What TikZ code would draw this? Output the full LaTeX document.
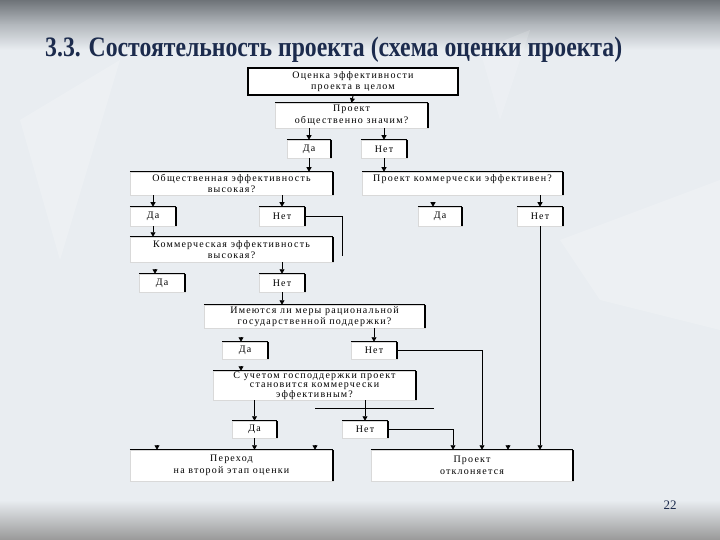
\documentclass[tikz,border=0pt]{standalone}
\usepackage{fontspec}
\setmainfont{Liberation Serif}
\newfontfamily\boxfont[LetterSpace=12]{Liberation Serif}
\usetikzlibrary{arrows.meta}
\definecolor{bgmain}{HTML}{E9EDF1}
\definecolor{topdark}{HTML}{6E7378}
\definecolor{topmid}{HTML}{B4B9BE}
\definecolor{botgray}{HTML}{999999}
\definecolor{titleblue}{HTML}{1C2B4D}
\tikzset{
  box/.style={fill=white, draw=gray!30, line width=0.5pt, inner sep=1pt, align=center,
    font=\boxfont\fontsize{10}{11.5}\selectfont},
  topedge/.style={line width=1pt},
  rightedge/.style={line width=1.7pt},
  arr/.style={-{Triangle[length=4.5pt,width=5pt]}, line width=0.9pt},
  ln/.style={line width=0.9pt},
}
\newcommand{\edges}[1]{%
  \draw[topedge] (#1.north west) -- (#1.north east);
  \draw[rightedge] (#1.north east) -- (#1.south east);}
\begin{document}
\begin{tikzpicture}[x=1pt,y=-1pt]
\useasboundingbox (0,0) rectangle (720,540);
% background
\fill[bgmain] (0,0) rectangle (720,540);
\shade[top color=topdark, bottom color=topmid] (0,0) rectangle (720,25);
\shade[top color=topmid, bottom color=bgmain] (0,25) rectangle (720,50);
\shade[top color=bgmain, bottom color=botgray] (0,500) rectangle (720,540);
% faint decoration
\fill[white, opacity=0.2] (20,120) -- (120,60) -- (60,260) -- cycle;
\fill[white, opacity=0.2] (560,240) -- (720,180) -- (720,330) -- (600,300) -- cycle;
\fill[white, opacity=0.15] (480,50) -- (530,30) -- (500,120) -- cycle;
% title
\node[anchor=base west, inner sep=0, text=titleblue] (title) at (45,57)
  {\resizebox{577pt}{19.5pt}{\bfseries 3.3. Состоятельность проекта (схема оценки проекта)}};
% page number
\node[anchor=base, inner sep=0, text=titleblue, font=\fontsize{13}{15}\selectfont] (pnum) at (670,509) {22};

% boxes
\node[box, draw=black, line width=1.5pt, minimum width=210pt, minimum height=27pt] (b1) at (353,81.5)
  {Оценка эффективности\\проекта в целом};
\node[box, minimum width=153pt, minimum height=25pt] (b2) at (351.5,115.5)
  {Проект\\общественно значим?};
\node[box, minimum width=44pt, minimum height=18pt] (da1) at (309,149) {Да};
\node[box, minimum width=46pt, minimum height=18pt] (net1) at (384,149) {Нет};
\node[box, minimum width=203pt, minimum height=23pt] (b3) at (231.5,183.5)
  {Общественная эффективность\\высокая?};
\node[box, minimum width=201pt, minimum height=23pt] (b4) at (462.5,183.5)
  {Проект коммерчески эффективен?\\\mbox{}};
\node[box, minimum width=46pt, minimum height=19pt] (da2) at (153,216.5) {Да};
\node[box, minimum width=46pt, minimum height=19pt] (net2) at (282,216.5) {Нет};
\node[box, minimum width=44pt, minimum height=19pt] (da3) at (440,216.5) {Да};
\node[box, minimum width=46pt, minimum height=19pt] (net3) at (540,216.5) {Нет};
\node[box, minimum width=203pt, minimum height=25pt] (b5) at (231.5,249.5)
  {Коммерческая эффективность\\высокая?};
\node[box, minimum width=46pt, minimum height=18pt] (da4) at (162,283) {Да};
\node[box, minimum width=46pt, minimum height=18pt] (net4) at (282,283) {Нет};
\node[box, minimum width=221pt, minimum height=23pt] (b6) at (314.5,316.5)
  {Имеются ли меры рациональной\\государственной поддержки?};
\node[box, minimum width=46pt, minimum height=17pt] (da5) at (245,350.5) {Да};
\node[box, minimum width=46pt, minimum height=17pt] (net5) at (374,350.5) {Нет};
\node[box, minimum width=203pt, minimum height=29pt, inner sep=0.5pt, font=\boxfont\fontsize{10}{9.6}\selectfont] (b7) at (314.5,385.5)
  {С учетом господдержки проект\\становится коммерчески\\эффективным?};
\node[box, minimum width=45pt, minimum height=17pt] (da6) at (254.5,429.5) {Да};
\node[box, minimum width=46pt, minimum height=17pt] (net6) at (365,429.5) {Нет};
\node[box, minimum width=203pt, minimum height=31pt] (b8) at (231.5,465.5)
  {Переход\\на второй этап оценки};
\node[box, minimum width=202pt, minimum height=31pt] (b9) at (472,465.5)
  {Проект\\отклоняется};

\foreach \n in {b2,da1,net1,b3,b4,da2,net2,da3,net3,b5,da4,net4,b6,da5,net5,b7,da6,net6,b8,b9}{\edges{\n}}

% connectors
\draw[arr] (b1.south) -- (b2.north);
\draw[arr] (b2.south -| da1.north) -- (da1.north);
\draw[arr] (b2.south -| net1.north) -- (net1.north);
\draw[arr] (da1.south) -- (da1.south |- b3.north);
\draw[arr] (net1.south) -- (net1.south |- b4.north);
\draw[arr] (b3.south -| da2.north) -- (da2.north);
\draw[arr] (b3.south -| net2.north) -- (net2.north);
\draw[arr] (b4.south -| net3.north) -- (net3.north);
\draw[arr] (da2.south) -- (da2.south |- b5.north);
\draw[arr] (b5.south -| net4.north) -- (net4.north);
\draw[arr] (net4.south) -- (net4.south |- b6.north);
\draw[arr] (b6.south -| net5.north) -- (net5.north);
\draw[arr] (b7.south -| da6.north) -- (da6.north);
\draw[arr] (b7.south -| net6.north) -- (net6.north);
\draw[arr] (da6.south) -- (da6.south |- b8.north);
% Net2 stray branch
\coordinate (n2end) at (342,256);
\draw[ln] (net2.east) -| (n2end);
% Net5 -> rejected
\coordinate (n5x) at (482,0);
\draw[arr] (net5.east) -| (n5x |- b9.north);
% Net6 -> rejected
\coordinate (n6x) at (453,0);
\draw[arr] (net6.east) -| (n6x |- b9.north);
% Net3 -> rejected
\draw[arr] (net3.south) -- (net3.south |- b9.north);
% stray horizontal line
\coordinate (s1) at (315,408);
\coordinate (s2) at (434,408);
\draw[ln] (s1) -- (s2);
% small markers
\coordinate (m1) at (433,202);
\draw[arr] (m1) -- (m1 |- da3.north);
\coordinate (m2) at (155,269);
\draw[arr] (m2) -- (m2 |- da4.north);
\coordinate (m3) at (241,337);
\draw[arr] (m3) -- (m3 |- da5.north);
\coordinate (m4) at (241,366);
\draw[arr] (m4) -- (m4 |- b7.north);
\coordinate (m5) at (157,445);
\draw[arr] (m5) -- (m5 |- b8.north);
\coordinate (m6) at (315,445);
\draw[arr] (m6) -- (m6 |- b8.north);
\coordinate (m7) at (508,445);
\draw[arr] (m7) -- (m7 |- b9.north);
\end{tikzpicture}
\end{document}
